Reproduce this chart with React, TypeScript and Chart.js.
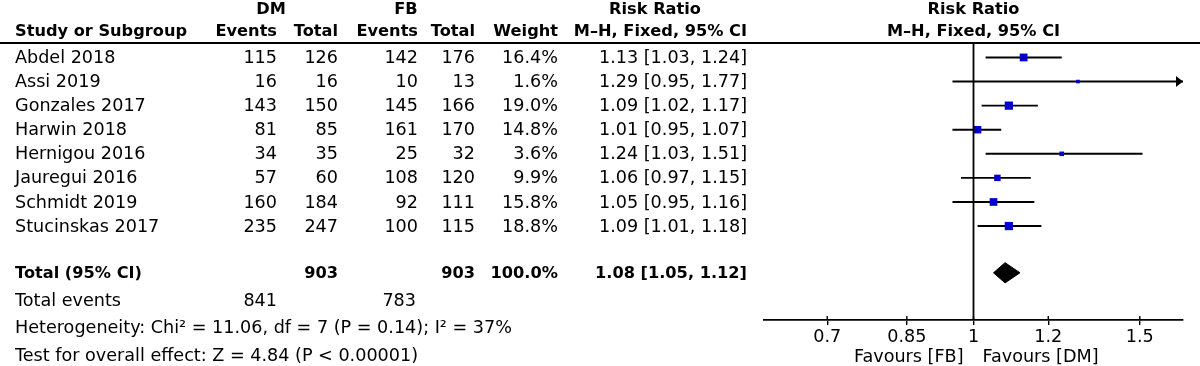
import React, { useEffect, useRef } from 'react';
import { Chart, registerables } from 'chart.js';

Chart.register(...registerables);

// ---------- data ----------
const studies = ['Abdel 2018', 'Assi 2019', 'Gonzales 2017', 'Harwin 2018', 'Hernigou 2016', 'Jauregui 2016', 'Schmidt 2019', 'Stucinskas 2017'];
const dmEvents = [115, 16, 143, 81, 34, 57, 160, 235];
const dmTotal = [126, 16, 150, 85, 35, 60, 184, 247];
const fbEvents = [142, 10, 145, 161, 25, 108, 92, 100];
const fbTotal = [176, 13, 166, 170, 32, 120, 111, 115];
const weights = [16.4, 1.6, 19.0, 14.8, 3.6, 9.9, 15.8, 18.8];
const riskRatio = [1.13, 1.29, 1.09, 1.01, 1.24, 1.06, 1.05, 1.09];
const ciLow = [1.03, 0.95, 1.02, 0.95, 1.03, 0.97, 0.95, 1.01];
const ciHigh = [1.24, 1.77, 1.17, 1.07, 1.51, 1.15, 1.16, 1.18];

const totalLabel = 'Total (95% CI)';
const totalDmN = 903;
const totalFbN = 903;
const totalWeight = '100.0%';
const totalRR = 1.08;
const totalLow = 1.05;
const totalHigh = 1.12;
const totalEventsDm = 841;
const totalEventsFb = 783;
const heterogeneityText = 'Heterogeneity: Chi\u00B2 = 11.06, df = 7 (P = 0.14); I\u00B2 = 37%';
const overallText = 'Test for overall effect: Z = 4.84 (P < 0.00001)';

const xTicks = [0.7, 0.85, 1, 1.2, 1.5];
const xMin = 0.6;
const xMax = 1 / 0.6;
const favoursLeft = 'Favours [FB]';
const favoursRight = 'Favours [DM]';

// ---------- layout (row units) ----------
const TOTAL_ROW = 8.94;
const DIAMOND_HALF = 0.42;
const ROW_TOP_HEADER = -2.01;
const ROW_HEADER = -1.1;
const ROW_TOTAL_EVENTS = 10.08;
const ROW_HETERO = 11.19;
const ROW_OVERALL = 12.35;

const FONT = '"DejaVu Sans", Verdana, sans-serif';
const REG = `17.6px ${FONT}`;
const BOLD = `bold 16.2px ${FONT}`;

const fmt2 = (v: number) => v.toFixed(2);
const ciText = (e: number, l: number, h: number) => `${fmt2(e)} [${fmt2(l)}, ${fmt2(h)}]`;

const tablePlugin = {
  id: 'forestTable',
  afterDraw(chart: any) {
    const { ctx, chartArea } = chart;
    const x = chart.scales.x;
    const y = chart.scales.y;
    const py = (r: number) => y.getPixelForValue(r) + 1;
    const W = chart.width;
    ctx.save();
    ctx.fillStyle = '#000';
    ctx.strokeStyle = '#000';
    ctx.textBaseline = 'middle';
    const t = (s: string | number, px: number, r: number, align: CanvasTextAlign, bold = false) => {
      ctx.font = bold ? BOLD : REG;
      ctx.textAlign = align;
      ctx.fillText(String(s), px, py(r));
    };

    // header line
    ctx.lineWidth = 1.8;
    ctx.beginPath();
    ctx.moveTo(0, chartArea.top);
    ctx.lineTo(W, chartArea.top);
    ctx.stroke();

    // line of no effect
    const x1 = x.getPixelForValue(1);
    ctx.beginPath();
    ctx.moveTo(x1, chartArea.top);
    ctx.lineTo(x1, chartArea.bottom);
    ctx.stroke();

    // upper half of tick marks
    ctx.lineWidth = 1.4;
    xTicks.forEach((v) => {
      const px = x.getPixelForValue(v);
      ctx.beginPath();
      ctx.moveTo(px, chartArea.bottom - 4);
      ctx.lineTo(px, chartArea.bottom);
      ctx.stroke();
    });

    // arrows for clipped CIs
    studies.forEach((_, i) => {
      if (ciHigh[i] > xMax) {
        const yy = y.getPixelForValue(i);
        const tip = chartArea.right;
        ctx.beginPath();
        ctx.moveTo(tip, yy);
        ctx.lineTo(tip - 7, yy - 5.5);
        ctx.lineTo(tip - 7, yy + 5.5);
        ctx.closePath();
        ctx.fill();
      }
      if (ciLow[i] < xMin) {
        const yy = y.getPixelForValue(i);
        const tip = chartArea.left;
        ctx.beginPath();
        ctx.moveTo(tip, yy);
        ctx.lineTo(tip + 7, yy - 5.5);
        ctx.lineTo(tip + 7, yy + 5.5);
        ctx.closePath();
        ctx.fill();
      }
    });

    // headers
    t('DM', 271, ROW_TOP_HEADER, 'center', true);
    t('FB', 406, ROW_TOP_HEADER, 'center', true);
    t('Risk Ratio', 655, ROW_TOP_HEADER, 'center', true);
    t('Risk Ratio', x1, ROW_TOP_HEADER, 'center', true);
    t('Study or Subgroup', 15, ROW_HEADER, 'left', true);
    t('Events', 277, ROW_HEADER, 'right', true);
    t('Total', 338, ROW_HEADER, 'right', true);
    t('Events', 418, ROW_HEADER, 'right', true);
    t('Total', 475, ROW_HEADER, 'right', true);
    t('Weight', 558, ROW_HEADER, 'right', true);
    t('M\u2013H, Fixed, 95% CI', 747, ROW_HEADER, 'right', true);
    t('M\u2013H, Fixed, 95% CI', x1, ROW_HEADER, 'center', true);

    // study rows
    studies.forEach((s, i) => {
      t(s, 15, i, 'left');
      t(dmEvents[i], 277, i, 'right');
      t(dmTotal[i], 338, i, 'right');
      t(fbEvents[i], 418, i, 'right');
      t(fbTotal[i], 475, i, 'right');
      t(`${weights[i].toFixed(1)}%`, 558, i, 'right');
      t(ciText(riskRatio[i], ciLow[i], ciHigh[i]), 747, i, 'right');
    });

    // total row
    t(totalLabel, 15, TOTAL_ROW, 'left', true);
    t(totalDmN, 338, TOTAL_ROW, 'right', true);
    t(totalFbN, 475, TOTAL_ROW, 'right', true);
    t(totalWeight, 558, TOTAL_ROW, 'right', true);
    t(ciText(totalRR, totalLow, totalHigh), 747, TOTAL_ROW, 'right', true);

    t('Total events', 15, ROW_TOTAL_EVENTS, 'left');
    t(totalEventsDm, 277, ROW_TOTAL_EVENTS, 'right');
    t(totalEventsFb, 416, ROW_TOTAL_EVENTS, 'right');
    t(heterogeneityText, 15, ROW_HETERO, 'left');
    t(overallText, 15, ROW_OVERALL, 'left');

    // favours labels
    ctx.font = REG;
    ctx.textAlign = 'right';
    ctx.fillText(favoursLeft, x1 - 10, 357);
    ctx.textAlign = 'left';
    ctx.fillText(favoursRight, x1 + 9, 357);

    ctx.restore();
  },
};

export default function App() {
  const ref = useRef<HTMLCanvasElement>(null);
  useEffect(() => {
    const canvas = ref.current;
    if (!canvas) return;

    const ciDatasets = studies.map((s, i) => ({
      type: 'scatter' as const,
      label: s,
      data: [
        { x: ciLow[i], y: i },
        { x: ciHigh[i], y: i },
      ],
      showLine: true,
      borderColor: '#000',
      borderWidth: 1.9,
      pointRadius: 0,
      order: 2,
    }));

    const squares = {
      type: 'scatter' as const,
      label: 'Risk ratio',
      data: riskRatio.map((v, i) => ({ x: v, y: i })),
      pointStyle: 'rect',
      pointRadius: weights.map((w) => (1.7 + 1.5 * Math.sqrt(w)) / Math.SQRT2),
      backgroundColor: '#0000c8',
      borderWidth: 0,
      pointBorderWidth: 0,
      showLine: false,
      order: 0,
    };

    const diamond = {
      type: 'scatter' as const,
      label: 'Total',
      data: [
        { x: totalLow, y: TOTAL_ROW },
        { x: totalRR, y: TOTAL_ROW - DIAMOND_HALF },
        { x: totalHigh, y: TOTAL_ROW },
        { x: totalRR, y: TOTAL_ROW + DIAMOND_HALF },
        { x: totalLow, y: TOTAL_ROW },
      ],
      showLine: true,
      fill: 'shape',
      backgroundColor: '#000',
      borderColor: '#000',
      borderWidth: 1,
      pointRadius: 0,
      order: 1,
    };

    const chart = new Chart(canvas, {
      type: 'scatter',
      data: { datasets: [squares, diamond, ...ciDatasets] as any },
      options: {
        responsive: false,
        animation: false,
        events: [],
        layout: { padding: { top: 43, left: 764, right: 17, bottom: 0 } },
        plugins: { legend: { display: false }, tooltip: { enabled: false } },
        scales: {
          x: {
            type: 'logarithmic',
            min: xMin,
            max: xMax,
            afterBuildTicks: (scale: any) => {
              scale.ticks = xTicks.map((v) => ({ value: v }));
            },
            afterFit: (scale: any) => {
              scale.height = 46;
            },
            ticks: {
              callback: (v: any) => String(v),
              autoSkip: false,
              maxRotation: 0,
              color: '#000',
              padding: 2,
              font: { family: FONT, size: 17.6 },
            },
            grid: {
              display: true,
              drawOnChartArea: false,
              drawTicks: true,
              tickLength: 5,
              color: '#000',
              lineWidth: 1.4,
            },
            border: { display: true, color: '#000', width: 1.8 },
          },
          y: {
            type: 'linear',
            reverse: true,
            min: -0.6,
            max: 10.9,
            display: false,
          },
        },
      } as any,
      plugins: [tablePlugin],
    });
    return () => chart.destroy();
  }, []);

  return (
    <div style={{ position: 'fixed', left: 0, top: 0, width: 1200, height: 366, background: '#fff' }}>
      <canvas ref={ref} width={1200} height={366} style={{ display: 'block', width: 1200, height: 366 }} />
    </div>
  );
}
